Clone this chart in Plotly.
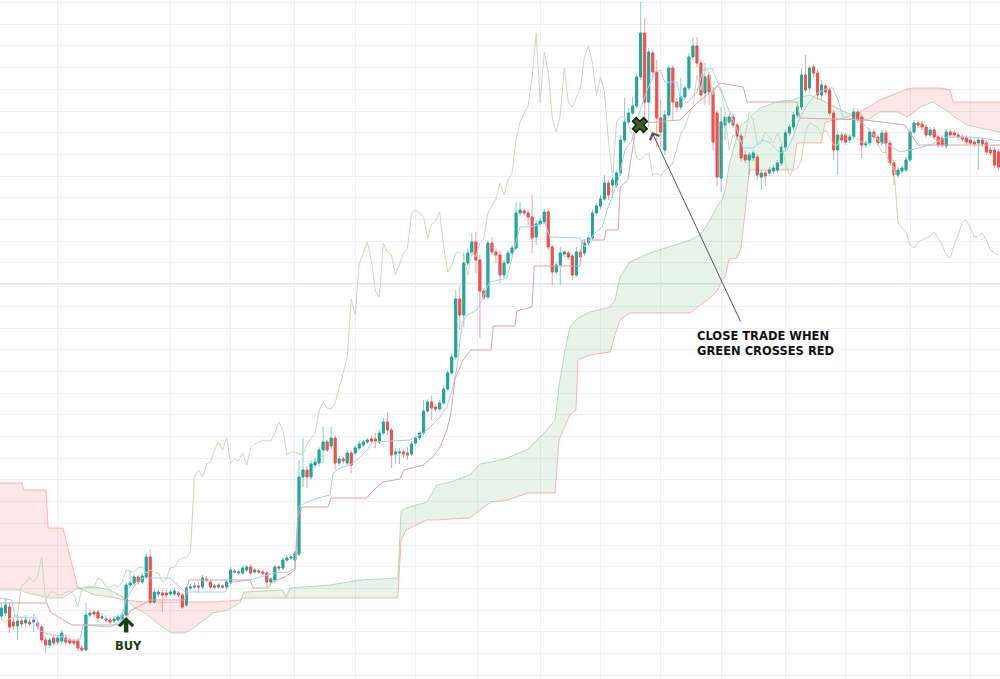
import plotly.graph_objects as go

# ---------------- candle data (bar index = position, price in chart units) ----------------
opens = [
    84, 87, 93, 78, 74, 79, 77, 78, 78, 77,
    73, 60, 55, 62, 58, 59, 62, 60, 59, 59,
    52, 50, 85, 88, 88, 82, 81, 80, 79, 80,
    81, 85, 115, 117, 123, 118, 123, 143, 98, 106,
    107, 107, 106, 106, 107, 105, 95, 112, 113, 114,
    113, 121, 118, 114, 113, 114, 113, 118, 129, 127,
    127, 130, 133, 128, 129, 128, 127, 118, 120, 133,
    132, 140, 142, 140, 146, 223, 230, 223, 235, 237,
    250, 258, 254, 262, 237, 241, 237, 247, 247, 252,
    255, 258, 261, 261, 258, 267, 278, 270, 246, 247,
    248, 247, 246, 257, 262, 267, 289, 298, 293, 291,
    297, 311, 327, 343, 401, 385, 437, 447, 458, 440,
    409, 403, 457, 448, 445, 425, 437, 447, 452, 487,
    489, 487, 483, 463, 476, 478, 488, 453, 428, 435,
    446, 447, 444, 425, 448, 447, 457, 462, 487, 494,
    501, 517, 515, 515, 527, 560, 578, 587, 594, 623,
    667, 598, 647, 628, 582, 550, 585, 632, 598, 593,
    603, 612, 643, 654, 637, 607, 625, 608, 587, 522,
    575, 578, 583, 575, 564, 545, 540, 542, 543, 523,
    527, 527, 529, 530, 537, 553, 567, 573, 585, 593,
    625, 612, 633, 627, 605, 614, 610, 587, 550, 565,
    565, 560, 563, 588, 583, 555, 557, 568, 563, 557,
    567, 557, 537, 525, 529, 530, 540, 568, 577, 576,
    573, 565, 570, 563, 562, 554, 568, 567, 565, 563,
    562, 560, 558, 557, 560, 557, 550, 550, 548,
]
highs = [
    97, 102, 97, 82, 86, 83, 85, 81, 86, 80,
    75, 63, 63, 65, 65, 70, 66, 63, 61, 62,
    55, 97, 90, 90, 90, 87, 85, 83, 84, 86,
    88, 117, 130, 126, 125, 127, 147, 151, 112, 111,
    110, 110, 111, 112, 109, 107, 114, 116, 117, 118,
    125, 124, 120, 116, 117, 116, 120, 133, 131, 131,
    134, 135, 136, 132, 131, 130, 129, 123, 135, 135,
    143, 145, 146, 149, 240, 262, 234, 240, 242, 253,
    273, 260, 273, 265, 244, 243, 250, 249, 255, 259,
    260, 262, 264, 267, 270, 282, 288, 272, 252, 252,
    250, 253, 259, 264, 269, 300, 301, 305, 296, 300,
    315, 330, 347, 410, 415, 448, 452, 467, 468, 445,
    412, 460, 463, 452, 450, 440, 450, 455, 498, 498,
    492, 490, 505, 480, 482, 491, 492, 455, 438, 453,
    450, 449, 446, 453, 451, 460, 464, 490, 497, 505,
    525, 520, 524, 530, 565, 602, 592, 603, 626, 698,
    682, 652, 650, 640, 600, 590, 635, 635, 602, 622,
    615, 647, 663, 663, 640, 637, 628, 613, 590, 593,
    588, 586, 586, 578, 567, 550, 548, 550, 546, 530,
    530, 533, 535, 540, 556, 570, 576, 588, 596, 632,
    645, 634, 636, 630, 620, 616, 612, 590, 570, 568,
    567, 566, 592, 591, 586, 560, 572, 571, 566, 570,
    570, 560, 540, 533, 535, 543, 572, 580, 580, 579,
    576, 573, 573, 566, 565, 571, 571, 570, 568, 566,
    565, 563, 561, 563, 563, 560, 553, 553, 551,
]
lows = [
    80, 84, 67, 70, 60, 72, 73, 74, 68, 71,
    57, 47, 52, 54, 55, 56, 55, 55, 55, 48,
    48, 49, 82, 83, 78, 80, 77, 76, 77, 78,
    79, 84, 113, 114, 115, 116, 121, 96, 96, 103,
    88, 102, 104, 104, 103, 91, 93, 110, 111, 107,
    111, 118, 111, 110, 111, 111, 111, 116, 126, 125,
    125, 128, 125, 126, 126, 125, 113, 116, 117, 129,
    130, 138, 140, 138, 144, 213, 212, 220, 232, 234,
    237, 248, 251, 230, 234, 236, 235, 227, 245, 250,
    253, 256, 256, 252, 256, 265, 265, 232, 237, 236,
    242, 240, 244, 254, 260, 265, 287, 280, 288, 289,
    295, 309, 325, 340, 370, 373, 434, 444, 427, 362,
    400, 401, 445, 437, 417, 422, 435, 444, 450, 484,
    484, 475, 447, 455, 473, 476, 450, 415, 425, 415,
    443, 440, 420, 423, 438, 444, 454, 460, 485, 491,
    499, 500, 502, 512, 524, 557, 575, 585, 592, 620,
    582, 573, 620, 553, 553, 545, 582, 580, 588, 590,
    600, 610, 640, 633, 600, 595, 595, 550, 513, 508,
    560, 575, 572, 560, 538, 537, 525, 539, 520, 510,
    514, 524, 526, 527, 534, 550, 564, 570, 582, 590,
    608, 608, 622, 600, 600, 605, 584, 540, 525, 557,
    555, 557, 560, 577, 542, 552, 554, 560, 554, 554,
    547, 534, 515, 522, 526, 528, 538, 566, 572, 570,
    562, 562, 560, 552, 552, 551, 562, 562, 560, 558,
    555, 554, 553, 530, 553, 545, 544, 532, 530,
]
closes = [
    92, 95, 73, 74, 79, 76, 80, 76, 80, 74,
    60, 55, 60, 57, 62, 67, 58, 57, 57, 52,
    50, 85, 87, 86, 82, 83, 80, 78, 81, 83,
    85, 115, 117, 123, 118, 124, 143, 98, 108, 108,
    105, 105, 108, 109, 105, 93, 112, 113, 114, 113,
    122, 120, 113, 113, 115, 113, 118, 130, 128, 128,
    132, 133, 127, 130, 128, 127, 118, 121, 133, 132,
    140, 142, 143, 147, 223, 230, 223, 236, 238, 250,
    258, 250, 262, 237, 241, 239, 247, 235, 252, 256,
    258, 260, 259, 259, 267, 278, 270, 245, 248, 248,
    246, 245, 256, 262, 267, 289, 298, 292, 291, 297,
    311, 327, 343, 401, 385, 437, 447, 458, 440, 409,
    403, 457, 448, 445, 425, 437, 447, 452, 487, 490,
    487, 483, 462, 476, 479, 488, 453, 428, 435, 447,
    448, 443, 425, 448, 443, 457, 462, 487, 494, 501,
    517, 505, 520, 527, 560, 578, 587, 594, 623, 667,
    598, 648, 628, 582, 568, 585, 632, 598, 593, 603,
    612, 643, 654, 637, 605, 623, 608, 558, 523, 578,
    583, 583, 575, 564, 542, 540, 545, 547, 525, 527,
    524, 530, 532, 537, 553, 567, 573, 585, 593, 625,
    610, 632, 627, 605, 615, 608, 587, 550, 565, 560,
    558, 563, 588, 580, 555, 557, 568, 563, 557, 567,
    557, 537, 525, 530, 532, 540, 568, 577, 575, 573,
    565, 570, 563, 555, 555, 568, 565, 565, 563, 561,
    558, 557, 556, 560, 556, 548, 547, 535, 533,
]
bars = list(range(len(closes)))

# lagging span: closes of later bars (beyond the visible window at the end)
chikou_shift = 26
chikou_tail = [477, 472, 468, 455, 452, 458, 460, 462, 464, 468,
               462, 455, 445, 442, 455, 465, 478, 480, 472, 463,
               464, 467, 460, 450, 447, 445]

# conversion line (blue)
tenkan_x = [-0.4, 2.6, 3.4, 8.8, 9.3, 10.8, 15.3, 16.3, 19.5, 20.3, 27.0, 29.5, 31.0, 33.2,
            35.2, 41.9, 44.4, 45.6, 55.6, 56.3, 57.6, 61.8, 68.0, 71.3, 73.0, 73.8, 75.5,
            78.7, 81.7, 82.5, 84.2, 86.7, 89.2, 90.9, 92.4, 101.6, 104.9, 106.6, 109.1,
            110.8, 112.3, 113.3, 114.6, 115.8, 118.3, 119.5, 120.8, 121.5, 125.7, 127.7,
            129.0, 131.5, 135.2, 136.4, 143.9, 145.1, 147.6, 149.4, 150.9, 153.4, 155.1,
            156.8, 158.3, 160.6, 162.6, 163.8, 165.0, 168.0, 168.8, 170.5, 173.0, 174.5,
            176.7, 178.7, 180.7, 183.0, 184.5, 186.9, 189.2, 191.2, 193.7, 195.4, 196.9,
            198.6, 200.4, 202.9, 205.6, 206.8, 208.1, 209.3, 212.8, 214.3, 218.5, 221.5,
            223.5, 226.0, 231.0, 235.2, 240.2, 243.4, 248.4]
tenkan = [102, 100, 83, 82, 70, 67, 63, 60, 60, 75, 73, 78, 100, 115, 122, 122, 113, 108,
          108, 113, 118, 120, 127, 128, 132, 193, 197, 202, 205, 227, 232, 235, 243, 250,
          258, 260, 267, 273, 283, 293, 313, 333, 377, 385, 390, 400, 413, 418, 422, 453,
          473, 473, 477, 463, 462, 453, 467, 473, 493, 520, 550, 560, 583, 610, 628, 630,
          618, 618, 603, 597, 608, 630, 632, 613, 592, 570, 552, 552, 560, 557, 547, 550,
          563, 582, 595, 607, 612, 612, 600, 583, 580, 577, 558, 553, 548, 550, 555, 563,
          563, 562, 559]

# base line (red-brown)
kijun_x = [-0.4, 11.3, 12.1, 17.5, 30.2, 31.0, 32.0, 35.7, 36.9, 45.6, 46.6, 61.8, 62.6,
           66.3, 67.3, 70.5, 73.0, 73.8, 74.8, 81.2, 82.0, 90.9, 91.9, 93.4, 94.9, 99.1,
           100.1, 104.9, 107.3, 109.1, 110.8, 111.8, 112.8, 114.8, 116.8, 121.8, 122.3,
           127.7, 128.2, 132.0, 132.5, 143.9, 144.4, 149.9, 150.4, 153.4, 153.9, 155.8,
           157.6, 159.3, 168.8, 171.3, 173.8, 177.0, 178.7, 184.5, 185.5, 197.9, 198.6,
           214.8, 224.7, 228.0, 248.4]
kijun = [97, 97, 88, 75, 75, 82, 89, 97, 100, 100, 120, 120, 112, 112, 118, 123, 130, 185,
         193, 193, 202, 202, 207, 213, 218, 221, 230, 235, 243, 253, 270, 287, 321, 340,
         350, 350, 374, 374, 389, 393, 434, 434, 460, 460, 470, 470, 513, 520, 567, 577,
         580, 590, 600, 610, 617, 613, 598, 598, 582, 580, 575, 555, 555]

# leading spans (cloud)
cloud_x = [-0.4, 5.1, 5.6, 11.1, 11.6, 15.3, 19.0, 23.3, 27.0, 30.7, 33.2, 35.7, 39.4, 42.4,
           45.6, 48.1, 52.6, 56.3, 59.3, 60.3, 70.0, 70.8, 71.8, 81.7, 89.2, 98.6, 99.4,
           100.6, 105.8, 108.3, 111.6, 116.5, 119.0, 121.8, 124.0, 125.8, 131.0, 135.2,
           137.7, 138.7, 140.2, 141.4, 142.9, 143.4, 146.4, 151.4, 152.6, 153.9, 156.3,
           161.3, 171.3, 173.8, 176.3, 178.2, 179.2, 180.0, 181.0, 183.0, 184.0, 185.0,
           186.0, 188.7, 193.7, 196.9, 197.9, 201.1, 203.9, 204.9, 209.8, 213.6, 215.3,
           218.5, 222.8, 225.3, 226.8, 228.5, 231.7, 233.5, 236.0, 236.7, 240.2, 243.4,
           245.9, 248.4]
senkou_a = [110, 110, 108, 103, 102, 102, 112, 113, 110, 102, 92, 87, 75, 67, 67, 73, 87,
            90, 97, 108, 110, 103, 112, 115, 120, 122, 189, 192, 198, 215, 218, 225, 236,
            238, 240, 242, 251, 268, 280, 315, 350, 373, 380, 382, 388, 393, 400, 423, 438,
            447, 460, 465, 480, 495, 500, 510, 535, 565, 575, 578, 582, 592, 599, 600, 602,
            605, 600, 598, 588, 582, 580, 588, 588, 583, 587, 593, 598, 593, 587, 584, 575,
            572, 570, 568]
senkou_b = [217, 217, 210, 210, 172, 172, 112, 105, 103, 100, 99, 98, 98, 98, 98, 98, 98,
            99, 100, 102, 102, 102, 102, 102, 102, 102, 159, 170, 180, 180, 181, 182, 190,
            198, 199, 200, 207, 207, 207, 260, 275, 285, 290, 340, 345, 348, 365, 380, 387,
            387, 387, 395, 402, 410, 420, 423, 441, 442, 453, 489, 530, 530, 530, 530, 557,
            557, 557, 578, 582, 588, 592, 600, 607, 611, 612, 612, 612, 612, 610, 598, 598,
            598, 598, 598]

# horizontal price level, exit mark, notes
level_price = 416
exit_bar = [158.8]
exit_price = [575]
buy_bar = 31
buy_tip_price = 83
buy_tail_price = 66
buy_label_price = 54
note_tip = (161.8, 568)
note_tail = (184.0, 377)
note_text_pos = (172.6, 357)
grid_bars = [14, 42, 57, 73, 88, 103, 118.5, 134, 149, 164, 179, 195, 210, 226, 241]

GREEN = '#26a69a'
RED = '#ef5350'
GREEN_WICK = 'rgba(38,166,154,0.55)'
RED_WICK = 'rgba(239,83,80,0.55)'
GRID = '#eef1f6'

fig = go.Figure()


def cloud_segments(xs, a, b):
    segs = []
    cur = [(xs[0], a[0], b[0])]
    up = a[0] >= b[0]
    for i in range(1, len(xs)):
        s = a[i] >= b[i]
        if s != up:
            d0 = a[i - 1] - b[i - 1]
            d1 = a[i] - b[i]
            t = d0 / (d0 - d1) if d0 != d1 else 0.5
            xc = xs[i - 1] + t * (xs[i] - xs[i - 1])
            yc = a[i - 1] + t * (a[i] - a[i - 1])
            cur.append((xc, yc, yc))
            segs.append((up, cur))
            cur = [(xc, yc, yc)]
            up = s
        cur.append((xs[i], a[i], b[i]))
    segs.append((up, cur))
    return segs


for up, seg in cloud_segments(cloud_x, senkou_a, senkou_b):
    px = [p[0] for p in seg] + [p[0] for p in reversed(seg)]
    py = [p[1] for p in seg] + [p[2] for p in reversed(seg)]
    fig.add_trace(go.Scatter(
        x=px, y=py, mode='lines', fill='toself', line=dict(width=0),
        fillcolor='rgba(67,160,71,0.12)' if up else 'rgba(244,67,54,0.12)',
        hoverinfo='skip'))

fig.add_trace(go.Scatter(x=cloud_x, y=senkou_a, mode='lines',
                         line=dict(color='rgba(67,160,71,0.35)', width=1), hoverinfo='skip'))
fig.add_trace(go.Scatter(x=cloud_x, y=senkou_b, mode='lines',
                         line=dict(color='rgba(244,67,54,0.35)', width=1), hoverinfo='skip'))

chikou = closes[chikou_shift:] + chikou_tail
fig.add_trace(go.Scatter(x=bars[:len(chikou)], y=chikou, mode='lines',
                         line=dict(color='#c7dbb8', width=1), hoverinfo='skip'))
fig.add_trace(go.Scatter(x=tenkan_x, y=tenkan, mode='lines',
                         line=dict(color='#a9cdf0', width=1), hoverinfo='skip'))
fig.add_trace(go.Scatter(x=kijun_x, y=kijun, mode='lines',
                         line=dict(color='#d9a5a5', width=1), hoverinfo='skip'))

# wicks (lighter) then solid bodies on top
fig.add_trace(go.Candlestick(
    x=bars, open=opens, high=highs, low=lows, close=closes,
    increasing=dict(line=dict(color=GREEN_WICK, width=1), fillcolor=GREEN),
    decreasing=dict(line=dict(color=RED_WICK, width=1), fillcolor=RED),
    whiskerwidth=0, hoverinfo='skip'))
body_top = [max(o, c) for o, c in zip(opens, closes)]
body_bot = [min(o, c) for o, c in zip(opens, closes)]
fig.add_trace(go.Candlestick(
    x=bars, open=opens, high=body_top, low=body_bot, close=closes,
    increasing=dict(line=dict(color=GREEN, width=1), fillcolor=GREEN),
    decreasing=dict(line=dict(color=RED, width=1), fillcolor=RED),
    whiskerwidth=0, hoverinfo='skip'))

fig.add_trace(go.Scatter(
    x=exit_bar, y=exit_price, mode='markers',
    marker=dict(symbol='x', size=13, color='#3b5e25', line=dict(color='#0f1f08', width=1.5)),
    hoverinfo='skip'))

fig.add_hline(y=level_price, line=dict(color='rgba(0,150,136,0.22)', width=1.5), layer='below')

# BUY arrow and label
fig.add_annotation(x=buy_bar, y=buy_tip_price, ax=buy_bar, ay=buy_tail_price,
                   xref='x', yref='y', axref='x', ayref='y', text='',
                   showarrow=True, arrowhead=4, arrowsize=0.6, arrowwidth=4.5,
                   arrowcolor='#1f3b1a')
fig.add_annotation(x=buy_bar + 0.5, y=buy_label_price, xref='x', yref='y',
                   text='<b>BUY</b>', showarrow=False,
                   font=dict(family='DejaVu Sans', size=11.5, color='#1f3b1a'))

# close-trade note
fig.add_annotation(x=note_tip[0], y=note_tip[1], ax=note_tail[0], ay=note_tail[1],
                   xref='x', yref='y', axref='x', ayref='y', text='',
                   showarrow=True, arrowhead=4, arrowsize=2, arrowwidth=1,
                   arrowcolor='#555555')
fig.add_annotation(x=note_text_pos[0], y=note_text_pos[1], xref='x', yref='y',
                   xanchor='left', yanchor='middle', align='left',
                   text='<b>CLOSE TRADE WHEN</b><br><b>GREEN CROSSES RED</b>',
                   showarrow=False,
                   font=dict(family='DejaVu Sans', size=11.5, color='#111111'))

fig.update_layout(
    width=1000, height=679, margin=dict(l=0, r=0, t=0, b=0, pad=0),
    paper_bgcolor='white', plot_bgcolor='white', showlegend=False,
    xaxis=dict(range=[-0.373, 248.38], tickvals=grid_bars, showticklabels=False,
               showgrid=True, gridcolor=GRID, gridwidth=1, zeroline=False,
               showline=False, ticks='', rangeslider=dict(visible=False)),
    yaxis=dict(range=[21, 700], tick0=3.1, dtick=21.7, showticklabels=False,
               showgrid=True, gridcolor=GRID, gridwidth=1, zeroline=False,
               showline=False, ticks=''),
)

fig.write_html("out.html", config={'displayModeBar': False},
               post_script="document.body.style.margin='0';")
